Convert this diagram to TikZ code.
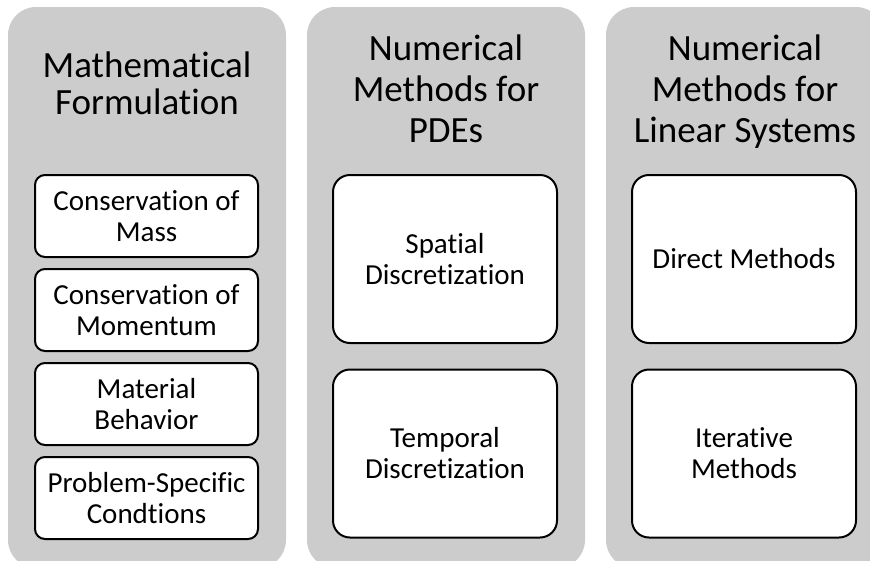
\documentclass[tikz,border=0pt]{standalone}
\usepackage{fontspec}
\setmainfont{Carlito}[Ligatures=NoCommon]
\definecolor{panelgray}{RGB}{204,204,204}
\begin{document}
\begin{tikzpicture}[x=1pt,y=-1pt,
  panel/.style={fill=panelgray,rounded corners=28pt,minimum width=278pt,minimum height=561pt},
  title/.style={anchor=base,align=center,font=\fontsize{37}{41}\selectfont},
  smallbox/.style={draw,fill=white,line width=2pt,rounded corners=10pt,minimum width=223pt,minimum height=82pt,inner sep=2pt,align=center,font=\fontsize{29}{31}\selectfont},
  bigbox/.style={smallbox,rounded corners=17pt,minimum width=224pt,minimum height=168pt}]
\useasboundingbox (0,0) rectangle (870,560);

\node[panel] (p1) at (147,287.5) {};
\node[panel] (p2) at (446,287.5) {};
\node[panel] (p3) at (745,287.5) {};

\node[title,font=\fontsize{37}{36.5}\selectfont] (t1) at (147,114) {Mathematical\\Formulation};
\node[title] (t2) at (446,142) {Numerical\\Methods for\\PDEs};
\node[title] (t3) at (745,142) {Numerical\\Methods for\\Linear Systems};

\node[smallbox] (mass) at (146.5,216) {Conservation of\\Mass};
\node[smallbox] (momentum) at (146.5,310) {Conservation of\\Momentum};
\node[smallbox] (material) at (146.5,404) {Material\\Behavior};
\node[smallbox] (problem) at (146.5,498) {Problem-Specific\\Condtions};

\node[bigbox] (spatial) at (445,259) {Spatial\\Discretization};
\node[bigbox] (temporal) at (445,453.5) {Temporal\\Discretization};

\node[bigbox] (direct) at (744,259) {Direct Methods};
\node[bigbox] (iterative) at (744,453.5) {Iterative\\Methods};
\end{tikzpicture}
\end{document}
